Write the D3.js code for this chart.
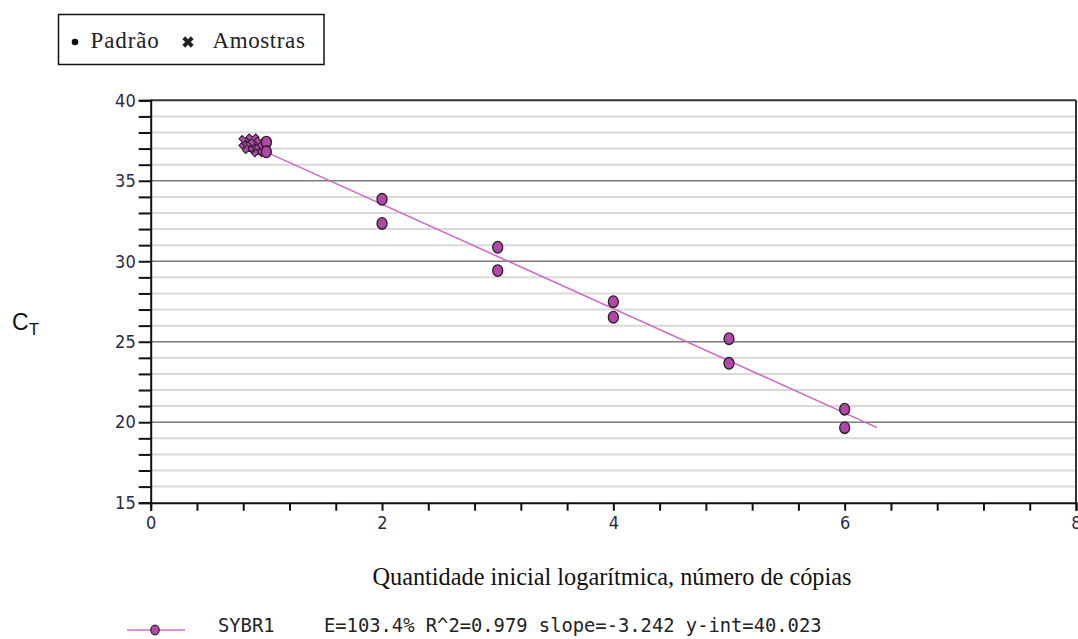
<!DOCTYPE html>
<html><head><meta charset="utf-8">
<script src="https://cdn.jsdelivr.net/npm/d3@7"></script>
<style>
html,body{margin:0;padding:0;background:#fff;}
svg{display:block;}
</style></head>
<body>
<svg id="chart" width="1078" height="639"></svg>
<script>
// ---- data ----
const stdX = [1, 1, 2, 2, 3, 3, 4, 4, 5, 5, 6, 6];
const stdY = [37.4, 36.8, 33.85, 32.35, 30.87, 29.42, 27.49, 26.52, 25.19, 23.66, 20.81, 19.66];
const smpX = [0.82, 0.85, 0.88, 0.90, 0.93, 0.95, 0.98];
const smpY = [37.4, 37.1, 37.5, 37.2, 36.9, 37.3, 37.0];
const slope = -3.242, yInt = 40.023;
const fitRange = [1.0, 6.28];
const xTickLabels = [0, 2, 4, 6, 8];
const yTickLabels = [15, 20, 25, 30, 35, 40];
const legendText = "E=103.4% R^2=0.979 slope=-3.242 y-int=40.023";

const svg = d3.select("#chart");
const x = d3.scaleLinear().domain([0, 8]).range([150.7, 1076]);
const y = d3.scaleLinear().domain([15, 40]).range([502.7, 100.3]);

const ptFill = "#b048a6", ptStroke = "#2b1b2b", lineCol = "#cf6cc2";
const axisFont = "'Liberation Sans Narrow','DejaVu Sans Condensed',sans-serif";

// minor gridlines
const minor = d3.range(16, 40).filter(v => v % 5 !== 0);
svg.append("g").selectAll("line").data(minor).join("line")
  .attr("x1", x(0)).attr("x2", x(8))
  .attr("y1", d => y(d)).attr("y2", d => y(d))
  .attr("stroke", "#d9d9d9").attr("stroke-width", 2);
// major gridlines
svg.append("g").selectAll("line").data([20, 25, 30, 35]).join("line")
  .attr("x1", x(0)).attr("x2", x(8))
  .attr("y1", d => y(d)).attr("y2", d => y(d))
  .attr("stroke", "#7a7a7a").attr("stroke-width", 1.5);

// frame top/right
svg.append("line").attr("x1", x(0)).attr("x2", x(8)).attr("y1", y(40)).attr("y2", y(40))
  .attr("stroke", "#333").attr("stroke-width", 2);
svg.append("line").attr("x1", x(8)).attr("x2", x(8)).attr("y1", y(40)).attr("y2", y(15))
  .attr("stroke", "#333").attr("stroke-width", 2);

// y axis
const yAxis = d3.axisLeft(y).tickValues(d3.range(15, 41, 1)).tickSize(12)
  .tickFormat(d => yTickLabels.includes(d) ? d : "");
const gy = svg.append("g").attr("transform", `translate(${x(0)},0)`).call(yAxis);
gy.select(".domain").attr("stroke", "#111").attr("stroke-width", 2);
gy.selectAll(".tick line").attr("stroke", "#111").attr("stroke-width", 2);
gy.selectAll(".tick text").attr("font-family", axisFont).attr("font-size", 18)
  .attr("fill", "#2a2a48").attr("x", -15);

// x axis
const xAxis = d3.axisBottom(x).tickValues(d3.range(0, 8.01, 0.4)).tickSize(8)
  .tickFormat(d => xTickLabels.some(v => Math.abs(v - d) < 1e-6) ? Math.round(d) : "");
const gx = svg.append("g").attr("transform", `translate(0,${y(15)})`).call(xAxis);
gx.select(".domain").attr("stroke", "#111").attr("stroke-width", 2);
gx.selectAll(".tick line").attr("stroke", "#111").attr("stroke-width", 2);
gx.selectAll(".tick text").attr("font-family", axisFont).attr("font-size", 18)
  .attr("fill", "#2a2a48").attr("y", 14);

// fit line
svg.append("line")
  .attr("x1", x(fitRange[0])).attr("y1", y(yInt + slope * fitRange[0]))
  .attr("x2", x(fitRange[1])).attr("y2", y(yInt + slope * fitRange[1]))
  .attr("stroke", lineCol).attr("stroke-width", 1.6);

// samples (crosses)
const crossPath = d3.symbol().type(d3.symbolCross).size(110)();
svg.append("g").selectAll("path").data(smpX.map((v, i) => [v, smpY[i]])).join("path")
  .attr("d", crossPath)
  .attr("transform", d => `translate(${x(d[0])},${y(d[1])}) rotate(45)`)
  .attr("fill", ptFill).attr("stroke", ptStroke).attr("stroke-width", 1);

// standards (circles)
svg.append("g").selectAll("ellipse").data(stdX.map((v, i) => [v, stdY[i]])).join("ellipse")
  .attr("cx", d => x(d[0])).attr("cy", d => y(d[1]))
  .attr("rx", 5).attr("ry", 5.8)
  .attr("fill", ptFill).attr("stroke", ptStroke).attr("stroke-width", 1.3);

// top legend box
svg.append("rect").attr("x", 58.5).attr("y", 14.5).attr("width", 265.5).attr("height", 50)
  .attr("fill", "none").attr("stroke", "#111").attr("stroke-width", 1.5);
svg.append("circle").attr("cx", 75).attr("cy", 42).attr("r", 3.3).attr("fill", "#111");
svg.append("text").attr("x", 90.5).attr("y", 47.5).text("Padrão")
  .attr("font-family", "'Liberation Serif',serif").attr("font-size", 23).attr("letter-spacing", 0.9).attr("fill", "#222");
svg.append("path").attr("d", d3.symbol().type(d3.symbolCross).size(80)())
  .attr("transform", "translate(188,42) rotate(45)").attr("fill", "#222");
svg.append("text").attr("x", 212.5).attr("y", 47.5).text("Amostras")
  .attr("font-family", "'Liberation Serif',serif").attr("font-size", 23).attr("letter-spacing", 0.6).attr("fill", "#222");

// y label C_T
const ct = svg.append("text").attr("x", 12).attr("y", 329.5)
  .attr("font-family", "'Liberation Sans',Arial,sans-serif").attr("font-size", 23).attr("fill", "#111");
ct.append("tspan").text("C");
ct.append("tspan").text("T").attr("font-size", 17).attr("dy", 5);

// x title
svg.append("text").attr("x", 612).attr("y", 585).attr("text-anchor", "middle")
  .attr("font-family", "'Liberation Serif',serif").attr("font-size", 24.3).attr("fill", "#111")
  .text("Quantidade inicial logarítmica, número de cópias");

// bottom legend
svg.append("line").attr("x1", 127).attr("x2", 185).attr("y1", 630).attr("y2", 630)
  .attr("stroke", lineCol).attr("stroke-width", 1.6);
svg.append("ellipse").attr("cx", 155).attr("cy", 630).attr("rx", 4.2).attr("ry", 4.8)
  .attr("fill", ptFill).attr("stroke", ptStroke).attr("stroke-width", 1.2);
svg.append("text").attr("x", 218).attr("y", 632.3).text("SYBR1")
  .attr("font-family", "'DejaVu Sans Mono',monospace").attr("font-size", 18.8).attr("fill", "#222");
svg.append("text").attr("x", 324).attr("y", 632.3).text(legendText)
  .attr("font-family", "'DejaVu Sans Mono',monospace").attr("font-size", 18.8).attr("fill", "#222");
</script>
</body></html>
